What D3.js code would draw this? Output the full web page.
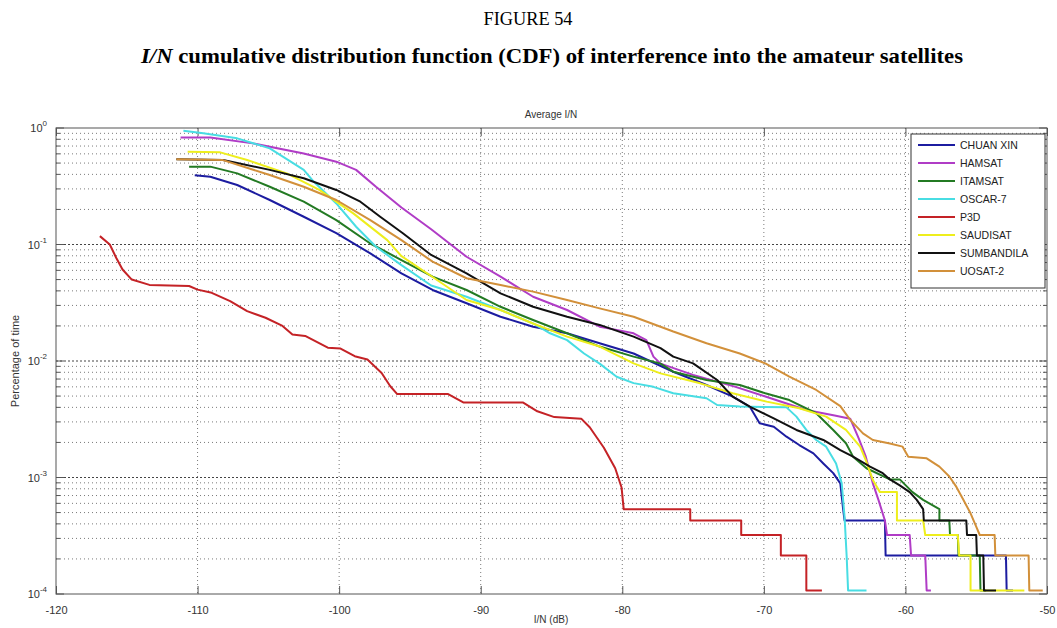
<!DOCTYPE html>
<html>
<head>
<meta charset="utf-8">
<script src="https://cdn.jsdelivr.net/npm/d3@7"></script>
<style>
  html, body { margin: 0; padding: 0; background: #fff; }
  svg { display: block; }
</style>
</head>
<body>
<svg id="chart" width="1057" height="628"></svg>
<script>
// ---- series data: [I/N (dB), fraction of time exceeded] ----
const chuanXin = [
  [-110.2, 0.393], [-109.1, 0.382], [-107.2, 0.324], [-104.9, 0.241], [-102.5, 0.173],
  [-100.2, 0.125], [-97.8, 0.0839], [-95.6, 0.0566], [-93.4, 0.0407], [-91.0, 0.0313],
  [-89.8, 0.0274], [-88.6, 0.0240], [-86.3, 0.0197], [-83.9, 0.0173], [-81.6, 0.0142],
  [-79.2, 0.0116], [-76.4, 0.00809], [-74.05, 0.00622], [-72.2, 0.00494], [-71.0, 0.00406],
  [-70.3, 0.00292], [-69.3, 0.00273], [-68.4, 0.00224], [-67.5, 0.00190], [-66.5, 0.00161],
  [-65.8, 0.00132], [-65.1, 0.00109], [-64.6, 0.00089], [-64.4, 0.000535], [-64.3, 0.000428],
  [-61.45, 0.000428], [-61.4, 0.000214], [-52.9, 0.000214], [-52.85, 0.000107], [-52.4, 0.000107]
];
const hamsat = [
  [-111.2, 0.83], [-109.1, 0.83], [-106.1, 0.738], [-102.5, 0.605], [-100.2, 0.514],
  [-98.8, 0.437], [-97.4, 0.313], [-95.6, 0.208], [-93.5, 0.135], [-91.0, 0.0785],
  [-88.6, 0.053], [-86.3, 0.0356], [-83.9, 0.0274], [-81.6, 0.0197], [-80.4, 0.0185],
  [-79.2, 0.0173], [-78.3, 0.0151], [-77.8, 0.0109], [-77.3, 0.0095], [-75.0, 0.0076],
  [-72.0, 0.0060], [-70.0, 0.0050], [-67.0, 0.0038], [-65.0, 0.0034], [-63.9, 0.0032],
  [-63.3, 0.00217], [-62.8, 0.00151], [-62.3, 0.00089], [-61.9, 0.00064], [-61.45, 0.000428],
  [-61.3, 0.000321], [-59.7, 0.000321], [-59.6, 0.000214], [-58.6, 0.000214],
  [-58.5, 0.000107], [-58.2, 0.000107]
];
const itamsat = [
  [-110.6, 0.466], [-109.1, 0.466], [-107.2, 0.408], [-104.9, 0.313], [-102.5, 0.233],
  [-100.2, 0.162], [-97.8, 0.102], [-95.6, 0.0736], [-93.4, 0.053], [-91.0, 0.0407],
  [-88.6, 0.0292], [-86.3, 0.0225], [-83.9, 0.0173], [-81.6, 0.0133], [-79.2, 0.0109],
  [-77.3, 0.0095], [-76.4, 0.0081], [-74.05, 0.00687], [-71.7, 0.00622], [-69.9, 0.00528],
  [-68.2, 0.00462], [-66.3, 0.00356], [-65.1, 0.00256], [-64.2, 0.00197], [-63.7, 0.00151],
  [-62.75, 0.0012], [-61.1, 0.000963], [-60.4, 0.000963], [-59.5, 0.000749], [-58.75, 0.000642],
  [-57.6, 0.000535], [-57.6, 0.000428], [-56.9, 0.000428], [-56.85, 0.000321], [-56.3, 0.000321],
  [-56.25, 0.000214], [-54.75, 0.000214], [-54.7, 0.000107], [-54.3, 0.000107]
];
const oscar7 = [
  [-111.0, 0.948], [-109.6, 0.90], [-107.2, 0.815], [-104.9, 0.668], [-102.5, 0.437],
  [-101.8, 0.347], [-100.2, 0.225], [-98.8, 0.142], [-97.4, 0.0957], [-95.6, 0.0666],
  [-93.5, 0.0445], [-91.0, 0.0356], [-88.6, 0.0274], [-86.3, 0.021], [-85.1, 0.0173],
  [-83.9, 0.0151], [-82.7, 0.0116], [-81.6, 0.0095], [-80.4, 0.00733], [-79.2, 0.00646],
  [-77.8, 0.0060], [-76.4, 0.00528], [-74.05, 0.00479], [-73.3, 0.00419], [-71.7, 0.00406],
  [-68.4, 0.0040], [-67.7, 0.00333], [-67.0, 0.00256], [-66.3, 0.0021], [-65.6, 0.00184],
  [-64.9, 0.00132], [-64.5, 0.00089], [-64.3, 0.00046], [-64.15, 0.00021], [-64.05, 0.000107],
  [-62.75, 0.000107]
];
const p3d = [
  [-116.9, 0.118], [-116.2, 0.10], [-115.75, 0.077], [-115.3, 0.061], [-114.65, 0.050],
  [-113.4, 0.045], [-110.6, 0.044], [-110.0, 0.041], [-109.0, 0.0385], [-107.7, 0.0327],
  [-106.5, 0.0268], [-105.2, 0.0235], [-104.0, 0.020], [-103.3, 0.0169], [-102.4, 0.0164],
  [-100.8, 0.013], [-99.9, 0.0128], [-98.9, 0.011], [-98.0, 0.0103], [-97.0, 0.0079],
  [-96.4, 0.0061], [-95.9, 0.0052], [-92.3, 0.0052], [-91.2, 0.0044], [-87.0, 0.0044],
  [-86.0, 0.0037], [-84.8, 0.0033], [-82.9, 0.0032], [-82.3, 0.0027], [-81.3, 0.0018],
  [-80.5, 0.0012], [-80.05, 0.00082], [-79.9, 0.000535], [-75.2, 0.000535], [-75.2, 0.000428],
  [-71.6, 0.000428], [-71.6, 0.000321], [-68.8, 0.000321], [-68.8, 0.000214], [-67.0, 0.000214],
  [-67.0, 0.000107], [-65.9, 0.000107]
];
const saudisat = [
  [-110.7, 0.626], [-108.4, 0.618], [-106.5, 0.531], [-103.7, 0.408], [-101.4, 0.294],
  [-99.0, 0.185], [-96.6, 0.109], [-95.6, 0.0794], [-93.5, 0.0537], [-91.0, 0.0334],
  [-88.6, 0.0274], [-86.3, 0.021], [-83.9, 0.0162], [-81.6, 0.0133], [-79.2, 0.00955],
  [-77.3, 0.00783], [-74.5, 0.00643], [-72.2, 0.00528], [-69.8, 0.00448], [-67.5, 0.00393],
  [-65.6, 0.00333], [-64.2, 0.00256], [-63.2, 0.00184], [-62.8, 0.00141], [-62.3, 0.00095],
  [-61.8, 0.000749], [-60.6, 0.000749], [-60.6, 0.000428], [-58.75, 0.000428], [-58.6, 0.000321],
  [-56.3, 0.000321], [-56.2, 0.000214], [-55.4, 0.000214], [-55.4, 0.000107], [-51.6, 0.000107]
];
const sumbandila = [
  [-111.5, 0.54], [-108.2, 0.531], [-104.9, 0.437], [-102.5, 0.37], [-100.2, 0.294],
  [-98.5, 0.233], [-97.1, 0.173], [-95.5, 0.125], [-93.5, 0.0813], [-91.0, 0.0566],
  [-88.6, 0.0381], [-86.3, 0.0292], [-83.9, 0.024], [-81.6, 0.0204], [-79.2, 0.0162],
  [-77.3, 0.0129], [-76.4, 0.0109], [-75.0, 0.00955], [-73.3, 0.00687], [-72.2, 0.00494],
  [-71.0, 0.00406], [-69.3, 0.00322], [-67.7, 0.00256], [-65.8, 0.0021], [-64.6, 0.00172],
  [-63.7, 0.00151], [-62.5, 0.00124], [-61.6, 0.00109], [-61.1, 0.000963], [-60.4, 0.000856],
  [-59.7, 0.000749], [-59.2, 0.000642], [-58.75, 0.000535], [-58.7, 0.000428], [-55.7, 0.000428],
  [-55.65, 0.000321], [-55.0, 0.000321], [-54.95, 0.000214], [-54.5, 0.000214],
  [-54.45, 0.000107], [-53.6, 0.000107]
];
const uosat2 = [
  [-111.5, 0.54], [-108.2, 0.53], [-104.9, 0.395], [-102.5, 0.313], [-100.2, 0.241],
  [-97.8, 0.162], [-95.6, 0.109], [-93.4, 0.0713], [-91.0, 0.0513], [-88.6, 0.0449],
  [-86.3, 0.0394], [-83.9, 0.0334], [-81.6, 0.0283], [-79.2, 0.024], [-77.3, 0.0197],
  [-76.4, 0.0179], [-74.05, 0.0142], [-71.7, 0.0116], [-69.9, 0.00955], [-68.2, 0.00733],
  [-66.3, 0.00564], [-64.6, 0.0041], [-63.9, 0.00312], [-63.0, 0.00239], [-62.3, 0.0021],
  [-61.1, 0.00196], [-60.2, 0.00184], [-59.8, 0.00151], [-58.5, 0.00146], [-57.6, 0.00124],
  [-56.9, 0.00102], [-56.4, 0.00083], [-55.9, 0.00064], [-55.4, 0.000493], [-55.0, 0.000378],
  [-54.75, 0.000321], [-53.7, 0.000321], [-53.65, 0.000214], [-51.3, 0.000214],
  [-51.25, 0.000107], [-50.3, 0.000107]
];

const seriesNames = ["CHUAN XIN", "HAMSAT", "ITAMSAT", "OSCAR-7", "P3D", "SAUDISAT", "SUMBANDILA", "UOSAT-2"];
const seriesData = [chuanXin, hamsat, itamsat, oscar7, p3d, saudisat, sumbandila, uosat2];
const seriesColors = ["#1c1ca0", "#b03cc6", "#237a23", "#48dde3", "#c42226", "#eeee1c", "#111111", "#d2903a"];

const xTicks = [-120, -110, -100, -90, -80, -70, -60, -50];
const yDecades = [0, -1, -2, -3, -4];

// ---- layout ----
const svg = d3.select("#chart");
const plot = { left: 56, right: 1047, top: 128, bottom: 594 };

const x = d3.scaleLinear().domain([-120, -50]).range([plot.left, plot.right]);
const y = d3.scaleLog().domain([1e-4, 1]).range([plot.bottom, plot.top]);

// Headings
svg.append("text")
  .attr("x", 528).attr("y", 25)
  .attr("text-anchor", "middle")
  .attr("textLength", 89).attr("lengthAdjust", "spacingAndGlyphs")
  .style("font-family", "'Liberation Serif', 'Times New Roman', serif")
  .style("font-size", "19px")
  .text("FIGURE 54");

const heading = svg.append("text")
  .attr("x", 552).attr("y", 63)
  .attr("text-anchor", "middle")
  .attr("textLength", 822).attr("lengthAdjust", "spacingAndGlyphs")
  .style("font-family", "'Liberation Serif', 'Times New Roman', serif")
  .style("font-size", "21px")
  .style("font-weight", "bold");
heading.append("tspan").style("font-style", "italic").text("I/N");
heading.append("tspan").text(" cumulative distribution function (CDF) of interference into the amateur satellites");

// Grid
const grid = svg.append("g").attr("class", "grid");
const minorVals = [];
for (let e = -4; e < 0; e++) {
  for (let m = 2; m <= 9; m++) minorVals.push(m * Math.pow(10, e));
}
grid.selectAll("line.minor").data(minorVals).join("line")
  .attr("class", "minor")
  .attr("x1", plot.left).attr("x2", plot.right)
  .attr("y1", d => y(d)).attr("y2", d => y(d))
  .attr("stroke", "#7a7a7a").attr("stroke-width", 1)
  .attr("stroke-dasharray", "1,3");
grid.selectAll("line.major").data(yDecades.slice(1, 4)).join("line")
  .attr("class", "major")
  .attr("x1", plot.left).attr("x2", plot.right)
  .attr("y1", d => y(Math.pow(10, d))).attr("y2", d => y(Math.pow(10, d)))
  .attr("stroke", "#444").attr("stroke-width", 1)
  .attr("stroke-dasharray", "2,2");
grid.selectAll("line.vx").data(xTicks.slice(1, -1)).join("line")
  .attr("class", "vx")
  .attr("x1", d => x(d)).attr("x2", d => x(d))
  .attr("y1", plot.top).attr("y2", plot.bottom)
  .attr("stroke", "#7a7a7a").attr("stroke-width", 1)
  .attr("stroke-dasharray", "1,3");

// Axes (ticks drawn inward, mirrored on opposite sides)
const axisColor = "#555";
const xAxisB = d3.axisBottom(x).tickValues(xTicks).tickSize(-8).tickFormat(d3.format("d"));
const gxb = svg.append("g").attr("transform", `translate(0,${plot.bottom})`).call(xAxisB);
gxb.select(".domain").remove();
gxb.selectAll("line").attr("stroke", axisColor);
gxb.selectAll("text")
  .attr("y", 12)
  .style("font-family", "'Liberation Sans', Arial, sans-serif")
  .style("font-size", "11px")
  .attr("fill", "#333")
  .text(d => String(d));

const xAxisT = d3.axisTop(x).tickValues(xTicks).tickSize(-8).tickFormat("");
const gxt = svg.append("g").attr("transform", `translate(0,${plot.top})`).call(xAxisT);
gxt.select(".domain").remove();
gxt.selectAll("line").attr("stroke", axisColor);

const allYTicks = minorVals.concat(yDecades.map(e => Math.pow(10, e)));
[plot.left, plot.right].forEach((px, i) => {
  const dir = i === 0 ? 1 : -1;
  svg.append("g").selectAll("line").data(allYTicks).join("line")
    .attr("x1", px)
    .attr("x2", d => px + dir * (Number.isInteger(Math.log10(d)) ? 8 : 4))
    .attr("y1", d => y(d)).attr("y2", d => y(d))
    .attr("stroke", axisColor);
});

// Y tick labels as 10^n
const yLab = svg.append("g");
yDecades.forEach(e => {
  const t = yLab.append("text")
    .attr("x", 47).attr("y", y(Math.pow(10, e)) + 4)
    .attr("text-anchor", "end")
    .style("font-family", "'Liberation Sans', Arial, sans-serif")
    .style("font-size", "11px")
    .attr("fill", "#333");
  t.append("tspan").text("10");
  t.append("tspan").attr("dy", -6).style("font-size", "8px").text(String(e));
});

// Frame
svg.append("rect")
  .attr("x", plot.left).attr("y", plot.top)
  .attr("width", plot.right - plot.left).attr("height", plot.bottom - plot.top)
  .attr("fill", "none").attr("stroke", "#555").attr("stroke-width", 1);

// Axis titles
svg.append("text")
  .attr("x", 551).attr("y", 118)
  .attr("text-anchor", "middle")
  .style("font-family", "'Liberation Sans', Arial, sans-serif")
  .style("font-size", "10px").attr("fill", "#333")
  .text("Average I/N");
svg.append("text")
  .attr("x", 551).attr("y", 623)
  .attr("text-anchor", "middle")
  .style("font-family", "'Liberation Sans', Arial, sans-serif")
  .style("font-size", "10px").attr("fill", "#333")
  .text("I/N (dB)");
svg.append("text")
  .attr("transform", `translate(19,${(plot.top + plot.bottom) / 2}) rotate(-90)`)
  .attr("text-anchor", "middle")
  .style("font-family", "'Liberation Sans', Arial, sans-serif")
  .style("font-size", "11px").attr("fill", "#333")
  .text("Percentage of time");

// Curves
const line = d3.line().x(d => x(d[0])).y(d => y(d[1]));
const curves = svg.append("g");
seriesData.forEach((data, i) => {
  curves.append("path")
    .datum(data)
    .attr("d", line)
    .attr("fill", "none")
    .attr("stroke", seriesColors[i])
    .attr("stroke-width", 2)
    .attr("stroke-linejoin", "round");
});

// Legend
const legend = svg.append("g");
legend.append("rect")
  .attr("x", 911).attr("y", 134).attr("width", 134).attr("height", 154)
  .attr("fill", "#fff").attr("stroke", "#333").attr("stroke-width", 1);
seriesNames.forEach((name, i) => {
  const ly = 145 + i * 18;
  legend.append("line")
    .attr("x1", 918).attr("x2", 955).attr("y1", ly).attr("y2", ly)
    .attr("stroke", seriesColors[i]).attr("stroke-width", 2);
  legend.append("text")
    .attr("x", 960).attr("y", ly + 4)
    .style("font-family", "'Liberation Sans', Arial, sans-serif")
    .style("font-size", "10.5px").attr("fill", "#222")
    .text(name);
});
</script>
</body>
</html>
